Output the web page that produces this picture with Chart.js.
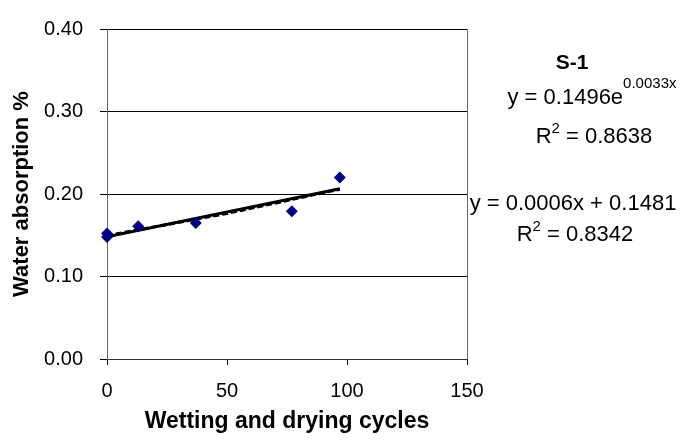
<!DOCTYPE html>
<html>
<head>
<meta charset="utf-8">
<script src="https://cdn.jsdelivr.net/npm/chart.js@4"></script>
<style>
  body { margin: 0; background: #fff; }
  canvas { display: block; }
</style>
</head>
<body>
<canvas id="chart" width="681" height="441"></canvas>
<script>
'use strict'

// measured points (cycles, water absorption %)
var cycles = [0, 0, 13, 37, 77, 97];
var absorption = [0.152, 0.148, 0.161, 0.165, 0.179, 0.220];

// trendline ends
var linTrendX = [0, 97];
var linTrendY = [0.1481, 0.2063];
var expTrendX = [0, 50, 97];
var expTrendY = [0.1496, 0.1764, 0.2058];

var yTicks = [0, 0.1, 0.2, 0.3, 0.4];
var xTicks = [0, 50, 100, 150];

var labelFont = 'Liberation Sans, Arial, sans-serif';

function pairs(xs, ys) {
  let out = [];
  for (let i = 0; i < xs.length; i++) out.push({x: xs[i], y: ys[i]});
  return out;
}

// draw the S-1 label and the two trend equations to the right
var equationText = {
  id: 'equationText',
  afterDraw(chart) {
    let ctx = chart.ctx;
    ctx.save();
    ctx.fillStyle = '#000';
    ctx.textBaseline = 'middle';

    function line(parts, cx, cy) {
      let total = 0;
      parts.forEach(p => {
        ctx.font = p.font;
        p.w = ctx.measureText(p.t).width;
        total += p.w;
      });
      let x = cx - total / 2;
      parts.forEach(p => {
        ctx.font = p.font;
        ctx.textAlign = 'left';
        ctx.fillText(p.t, x, cy + (p.dy || 0));
        x += p.w;
      });
    }

    let big = '22px ' + labelFont;
    let sup = '15px ' + labelFont;
    line([{t: 'S-1', font: 'bold 21px ' + labelFont}], 572, 63);
    line([{t: 'y = 0.1496e', font: big}, {t: '0.0033x', font: sup, dy: -14}], 592, 98);
    line([{t: 'R', font: big}, {t: '2', font: sup, dy: -8}, {t: ' = 0.8638', font: big}], 594, 137);
    line([{t: 'y = 0.0006x + 0.1481', font: big}], 573, 204);
    line([{t: 'R', font: big}, {t: '2', font: sup, dy: -8}, {t: ' = 0.8342', font: big}], 575, 235);
    ctx.restore();
  }
};

const ctx = document.getElementById('chart').getContext('2d');
const chart = new Chart(ctx, {
  type: 'scatter',
  data: {
    datasets: [{
      label: 'S-1',
      data: pairs(cycles, absorption),
      pointStyle: 'rectRot',
      pointRadius: 6,
      backgroundColor: '#000080',
      borderColor: '#000080',
      borderWidth: 0,
      clip: false,
      order: 0
    }, {
      label: 'Linear',
      data: pairs(linTrendX, linTrendY),
      showLine: true,
      pointRadius: 0,
      borderColor: '#000',
      borderWidth: 3,
      order: 2
    }, {
      label: 'Expon.',
      data: pairs(expTrendX, expTrendY),
      showLine: true,
      pointRadius: 0,
      borderColor: '#000',
      borderWidth: 3,
      borderDash: [6, 3],
      order: 1
    }]
  },
  options: {
    responsive: false,
    animation: false,
    layout: { padding: { top: 20, right: 214, left: 0, bottom: 0 } },
    plugins: {
      legend: { display: false },
      tooltip: { enabled: false }
    },
    scales: {
      x: {
        type: 'linear',
        min: 0,
        max: 150,
        afterFit(scale) { scale.height = 82; },
        afterBuildTicks(scale) { scale.ticks = xTicks.map(v => ({value: v})); },
        ticks: {
          color: '#000',
          padding: 14,
          font: { family: labelFont, size: 20 }
        },
        grid: {
          color: c => (c.tick && c.tick.value === 150) ? '#666' : 'rgba(0,0,0,0)',
          tickColor: '#000',
          tickLength: 6
        },
        border: { color: '#333', width: 1 },
        title: {
          display: true,
          text: 'Wetting and drying cycles',
          color: '#000',
          font: { family: labelFont, size: 23, weight: 'bold', lineHeight: 1.2 },
          padding: { top: 0, bottom: 6 }
        }
      },
      y: {
        min: 0,
        max: 0.4,
        afterFit(scale) { scale.width = 107; },
        afterBuildTicks(scale) { scale.ticks = yTicks.map(v => ({value: v})); },
        ticks: {
          color: '#000',
          padding: 17,
          font: { family: labelFont, size: 20 },
          callback: v => v.toFixed(2)
        },
        grid: {
          color: c => (c.tick && c.tick.value === 0) ? 'rgba(0,0,0,0)' : '#000',
          tickColor: '#000',
          tickLength: 7
        },
        border: { color: '#666', width: 1 },
        title: {
          display: true,
          text: 'Water absorption %',
          color: '#000',
          font: { family: labelFont, size: 22, weight: 'bold', lineHeight: 1.2 },
          padding: { top: 9, bottom: 0 }
        }
      }
    }
  },
  plugins: [equationText]
});
</script>
</body>
</html>
